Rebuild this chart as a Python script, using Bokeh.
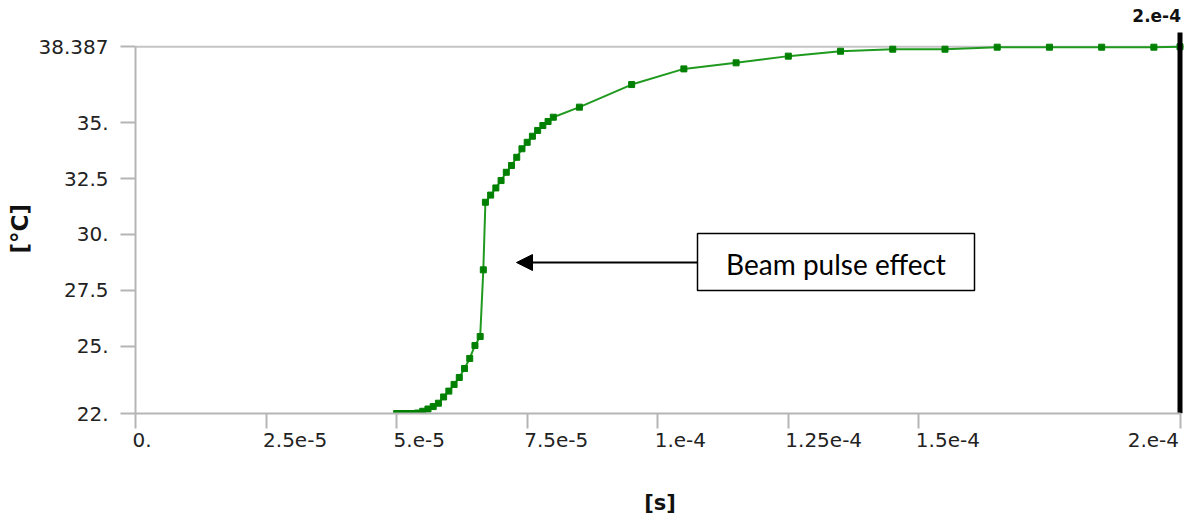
import math
from bokeh.plotting import figure
from bokeh.models import (Range1d, FixedTicker, Span, Label, LinearAxis, Title,
                          BoxAnnotation, Arrow, NormalHead, CustomJSTickFormatter)
from bokeh.embed import file_html
from bokeh.resources import INLINE

# ---------------- data ----------------
time_us = [50, 51, 52, 53, 54, 55, 56, 57, 58, 59, 60, 61, 62, 63, 64, 65, 66, 66.6,
           67, 68, 69, 70, 71, 72, 73, 74, 75, 76, 77, 78, 79, 80,
           85, 95, 105, 115, 125, 135, 145, 155, 165, 175, 185, 195, 200]
temp_c = [22.0, 22.0, 22.0, 22.0, 22.02, 22.10, 22.20, 22.31, 22.46, 22.74, 23.00, 23.30,
          23.61, 24.01, 24.46, 25.04, 25.44, 28.42,
          31.44, 31.76, 32.08, 32.41, 32.78, 33.08, 33.45, 33.83, 34.12, 34.39, 34.65,
          34.87, 35.05, 35.24,
          35.69, 36.70, 37.40, 37.67, 37.97, 38.19, 38.28, 38.28, 38.37, 38.37, 38.37,
          38.37, 38.387]
x_ticks = [0, 2.5e-5, 5e-5, 7.5e-5, 1e-4, 1.25e-4, 1.5e-4, 2e-4]
x_tick_labels = ["0.", "2.5e-5", "5.e-5", "7.5e-5", "1.e-4", "1.25e-4", "1.5e-4", "2.e-4"]
y_ticks = [22, 25, 27.5, 30, 32.5, 35, 38.387]
y_tick_labels = ["22.", "25.", "27.5", "30.", "32.5", "35.", "38.387"]
probe_time = 2e-4
probe_label = "2.e-4"
x_label = "[s]"
y_label = "[°C]"
note_text = "Beam pulse effect"

t_s = [v * 1e-6 for v in time_us]

# ---------------- layout ----------------
W, H = 1184, 518
FL = 135            # frame left (px)
FH = 413            # frame height (px), frame top at 0
FB = H - FH
px_per_s = 1044.5 / 2e-4
px_per_c = (413 - 46.3) / (38.387 - 22)
x_end = (W - FL) / px_per_s
y_start = 22
y_end = y_start + FH / px_per_c

TICK_FONT = "DejaVu Sans"
TICK_PX = 20
TICK_COLOR = "#222222"
# approximate DejaVu Sans advance widths (em) used to left-align x tick labels
ADV = {".": 0.318, "e": 0.615, "-": 0.361}


def text_w(s):
    return sum(ADV.get(c, 0.636) for c in s) * TICK_PX


def xd(px):
    return (px - FL) / px_per_s


def yd(py):
    return y_start + (FH - py) / px_per_c


p = figure(width=W, height=H, output_backend="svg", toolbar_location=None,
           x_range=Range1d(0, x_end), y_range=Range1d(y_start, y_end),
           min_border_left=FL, min_border_right=0, min_border_top=0, min_border_bottom=FB)
p.outline_line_color = None
p.grid.visible = False
p.background_fill_color = "white"
p.border_fill_color = "white"

AX = "#b5b5b5"
xa = p.xaxis[0]
ya = p.yaxis[0]
for ax in (xa, ya):
    ax.axis_line_color = AX
    ax.axis_line_width = 2
    ax.major_tick_line_color = AX
    ax.major_tick_line_width = 2
    ax.major_tick_out = 15
    ax.major_tick_in = 0
    ax.minor_tick_line_color = None
xa.ticker = FixedTicker(ticks=x_ticks)
ya.ticker = FixedTicker(ticks=y_ticks)
xa.bounds = (0, 2e-4)
ya.bounds = (22, 38.387)

# x axis: ticks only (labels drawn by a second axis so they can start at the tick)
xa.formatter = CustomJSTickFormatter(code="return ''")
xa.major_label_text_font_size = "0px"
xa.major_label_standoff = 0

LOOKUP = """
let best = 0, bd = 1e99;
for (let i = 0; i < tvals.length; i++) {
  const d = Math.abs(tvals[i] - tick);
  if (d < bd) { bd = d; best = i; }
}
return tlabels[best];
"""
ya.formatter = CustomJSTickFormatter(args=dict(tvals=y_ticks, tlabels=y_tick_labels), code=LOOKUP)
ya.major_label_text_font = TICK_FONT
ya.major_label_text_font_size = f"{TICK_PX}px"
ya.major_label_text_color = TICK_COLOR
ya.major_label_standoff = 12

# y axis title, placed along the 22..38.387 span rather than the whole frame
p.add_layout(Title(text=y_label, align="left", offset=160, standoff=5,
                   text_font="DejaVu Sans", text_font_style="bold",
                   text_font_size="23px", text_color="#111111"), "left")

# label-only x axis with positions shifted so texts start ~3 px before each tick
shifted = []
for i, (tk, lb) in enumerate(zip(x_ticks, x_tick_labels)):
    w = text_w(lb)
    if i == len(x_ticks) - 1:
        shifted.append(tk - (w / 2 + 1) / px_per_s)
    else:
        shifted.append(tk + (w / 2 - 3) / px_per_s)
xl = LinearAxis(ticker=FixedTicker(ticks=shifted),
                formatter=CustomJSTickFormatter(args=dict(tvals=shifted, tlabels=x_tick_labels),
                                                code=LOOKUP))
xl.axis_line_color = None
xl.major_tick_line_color = None
xl.minor_tick_line_color = None
xl.major_tick_out = 0
xl.major_tick_in = 0
xl.major_label_standoff = 4
xl.major_label_text_font = TICK_FONT
xl.major_label_text_font_size = f"{TICK_PX}px"
xl.major_label_text_color = TICK_COLOR
xl.axis_label = x_label
xl.axis_label_text_font = "DejaVu Sans"
xl.axis_label_text_font_style = "bold"
xl.axis_label_text_font_size = "21px"
xl.axis_label_text_color = "#111111"
xl.axis_label_standoff = 41
p.add_layout(xl, "below")

# top max line
p.add_layout(Span(location=y_ticks[-1], dimension="width", line_color="#c4c4c4",
                  line_width=2, level="underlay"))

# curve
p.line(t_s, temp_c, line_color="#1f9a1f", line_width=2)
p.scatter(t_s, temp_c, marker="square", size=6, fill_color="#008000", line_color="#008000")

# probe line
p.segment(x0=[probe_time], y0=[y_start], x1=[probe_time], y1=[yd(32)],
          line_color="black", line_width=5)
p.add_layout(Label(x=probe_time, y=yd(15), x_offset=1, text=probe_label,
                   text_align="right", text_baseline="middle", text_font="DejaVu Sans",
                   text_font_style="bold", text_font_size="17px", text_color="#111111"))

# annotation
p.add_layout(Arrow(end=NormalHead(size=16, fill_color="black", line_color="black"),
                   x_start=xd(697), y_start=yd(262), x_end=xd(516), y_end=yd(262),
                   line_color="black", line_width=2))
p.add_layout(BoxAnnotation(left=xd(697), right=xd(974), top=yd(233), bottom=yd(290),
                           fill_color="white", fill_alpha=1.0, line_color="black",
                           line_alpha=1.0, line_width=1.5))
p.add_layout(Label(x=xd(835.5), y=yd(263), text=note_text, text_align="center",
                   text_baseline="middle", text_font="Lato", text_font_size="28px",
                   text_color="black"))

open("out.html", "w").write(file_html(p, INLINE))
